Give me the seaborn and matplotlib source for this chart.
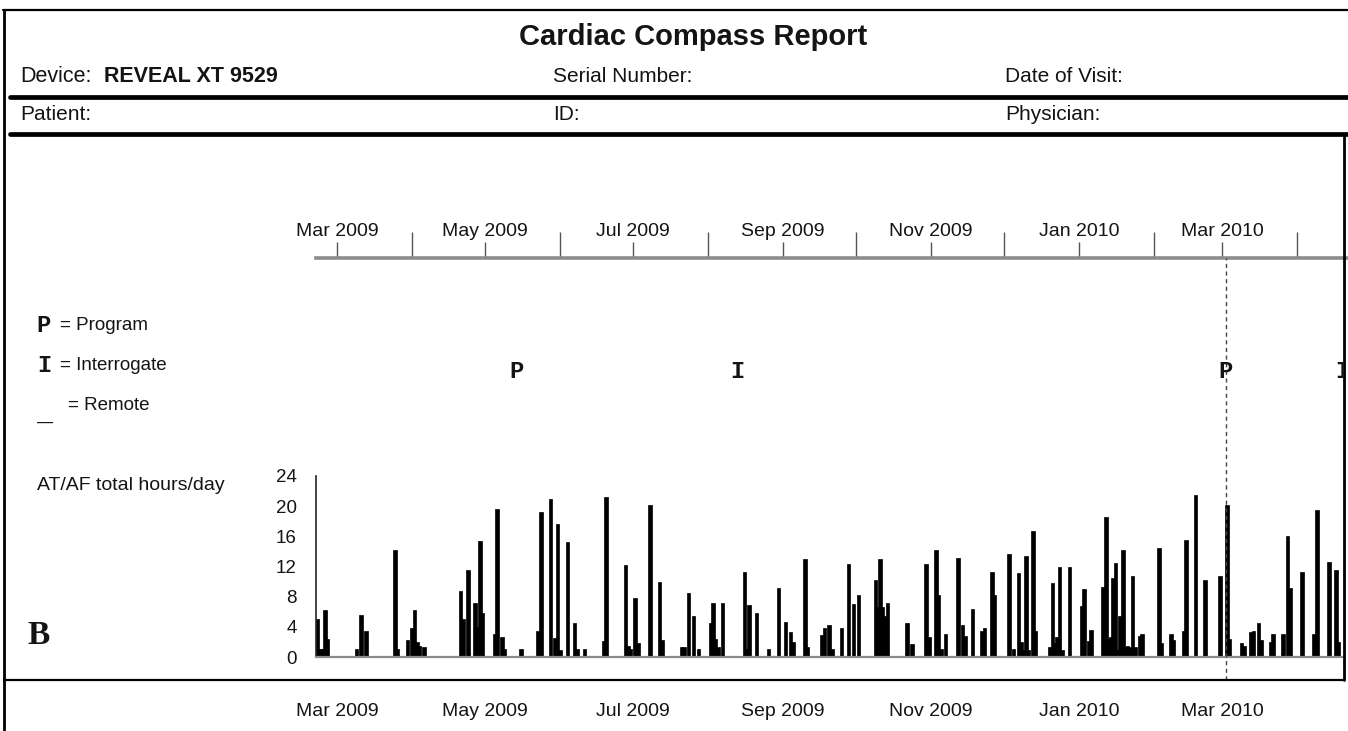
import matplotlib
matplotlib.use("Agg")
import matplotlib.pyplot as plt
import seaborn as sns
from matplotlib.lines import Line2D
from matplotlib.ticker import MultipleLocator

# ---------------- data (days counted from 1 Mar 2009) ----------------
bar_days = [-8, -7, -6, -5, -4,
            8, 10, 12,
            24, 25,
            29, 31, 32, 33, 34, 36,
            51, 52, 54, 57, 58, 59, 60,
            65, 66, 68, 69,
            76,
            83, 84, 88, 90, 91, 92, 95, 98, 99, 102,
            110, 111,
            119, 120, 121, 123, 124, 129,
            133, 134,
            142, 143, 145, 147, 149,
            154, 155, 156, 157, 159,
            168, 169, 170, 173,
            178,
            182, 185, 187, 188,
            193, 194,
            200, 201, 203, 204,
            208, 211, 213, 215,
            222, 223, 224, 225, 226, 227,
            235, 237,
            243, 244, 247, 248, 249, 251,
            256, 258, 259, 262,
            266, 267, 270, 271,
            277, 279, 281, 282, 283, 284, 285, 287, 288,
            294, 295, 296, 297, 298, 299,
            302,
            307, 308, 310, 311,
            316, 317, 318, 319, 320, 321, 322, 323, 324, 325, 326, 327, 328, 329, 331, 332,
            339, 340,
            344, 345,
            349, 350, 354, 358, 364, 367, 368,
            373, 374, 377, 378, 380, 381,
            385, 386, 390, 392, 393, 398,
            403, 404, 409, 412, 413]
bar_hours = [5.0, 1.1, 1.1, 6.2, 2.4,
             1.1, 5.6, 3.5,
             14.2, 1.1,
             2.2, 3.8, 6.2, 2.0, 1.5, 1.3,
             8.8, 5.1, 11.5, 7.2, 4.0, 15.4, 5.8,
             3.1, 19.6, 2.7, 1.1,
             1.1,
             3.4, 19.2, 20.9, 2.5, 17.6, 0.9, 15.2, 4.5, 1.0, 1.1,
             2.1, 21.2,
             12.2, 1.5, 1.1, 7.8, 1.9, 20.1,
             9.9, 2.3,
             1.3, 1.3, 8.5, 5.5, 1.0,
             4.5, 7.2, 2.4, 1.3, 7.2,
             11.3, 1.1, 6.9, 5.8,
             1.1,
             9.1, 4.6, 3.3, 2.0,
             13.0, 1.3,
             2.9, 3.8, 4.3, 1.0,
             3.8, 12.3, 7.0, 8.2,
             10.2, 6.6, 13.0, 6.6, 5.5, 7.2,
             4.5, 1.7,
             12.3, 2.7, 14.2, 8.2, 1.1, 3.0,
             13.1, 4.2, 2.8, 6.3,
             3.5, 3.8, 11.3, 8.2,
             13.6, 1.1, 11.2, 2.0, 0.9, 13.4, 0.9, 16.7, 3.4,
             1.3, 9.8, 1.8, 2.7, 12.0, 0.9,
             12.0,
             6.7, 9.0, 2.1, 3.6,
             9.3, 18.6, 2.4, 2.7, 10.5, 12.4, 0.9, 5.4, 14.2, 1.3, 1.5, 1.3, 10.8, 1.3, 2.8, 3.0,
             14.4, 1.8,
             3.0, 2.2,
             3.5, 15.5, 21.5, 10.2, 10.7, 20.2, 2.4,
             1.9, 1.5, 3.3, 3.4, 4.5, 2.2,
             2.0, 3.0, 3.0, 16.1, 9.1, 11.3,
             3.1, 19.5, 12.6, 11.5, 2.0]

month_days_labeled = [0, 61, 122, 184, 245, 306, 365]
month_labels = ["Mar 2009", "May 2009", "Jul 2009", "Sep 2009",
                "Nov 2009", "Jan 2010", "Mar 2010"]
month_days_unlabeled = [31, 92, 153, 214, 275, 337, 396]

event_days = [74, 165, 366.5, 414.5]
event_codes = ["P", "I", "P", "I"]
session_day = 366.5

y_ticks = [0, 4, 8, 12, 16, 20, 24]

# ---------------- layout helpers ----------------
W, H = 1348, 731
PX_PER_DAY = 2.425
X_DAY0 = 337.0


def day_at(px):
    return (px - X_DAY0) / PX_PER_DAY


def rect(x0, y_top, x1, y_bot):
    return [x0 / W, 1 - y_bot / H, (x1 - x0) / W, (y_bot - y_top) / H]


sns.set_style("white")
SANS = ["Liberation Sans", "DejaVu Sans"]
MONO = ["Liberation Mono", "DejaVu Sans Mono"]
SERIF = ["Liberation Serif", "DejaVu Serif"]
plt.rcParams["font.family"] = SANS
TXT = "#141414"

fig = plt.figure(figsize=(W / 100, H / 100), dpi=100)
fig.patch.set_facecolor("white")


def ftext(x, y, s, **kw):
    kw.setdefault("color", TXT)
    kw.setdefault("va", "center")
    fig.text(x / W, 1 - y / H, s, **kw)


def fline(x0, y0, x1, y1, lw, color="black", ls="-"):
    fig.add_artist(Line2D([x0 / W, x1 / W], [1 - y0 / H, 1 - y1 / H],
                          transform=fig.transFigure, lw=lw, color=color, ls=ls))


# ---------------- header ----------------
fline(3, 10, 1348, 10, 1.6)
fline(4, 10, 4, 731, 2.0)
ftext(693, 37, "Cardiac Compass Report", fontsize=21, weight="bold", ha="center")
ftext(20, 76, "Device:", fontsize=15.5)
ftext(104, 76, "REVEAL XT 9529", fontsize=15.5, weight="bold")
ftext(553, 76, "Serial Number:", fontsize=15)
ftext(1005, 76, "Date of Visit:", fontsize=15)
fline(10, 97, 1348, 97, 3.4)
ftext(20, 114, "Patient:", fontsize=15)
ftext(553, 114, "ID:", fontsize=15)
ftext(1005, 114, "Physician:", fontsize=15)
fline(10, 134, 1348, 134, 3.4)
fline(1344, 134, 1344, 680, 2.0)
fline(4, 680, 1344, 680, 1.6)

# ---------------- legend / labels ----------------
ftext(43, 325, "P", fontsize=17, family=MONO, weight="bold", ha="center")
ftext(60, 325, "= Program", fontsize=13.5)
ftext(44, 366, "I", fontsize=17, family=MONO, weight="bold", ha="center")
ftext(60, 366, "= Interrogate", fontsize=13.5)
ftext(45, 414, "_", fontsize=19, family=MONO, weight="bold", ha="center")
ftext(68, 405, "= Remote", fontsize=13.5)
ftext(37, 485, "AT/AF total hours/day", fontsize=14)
ftext(27, 636, "B", fontsize=24, family=SERIF, weight="bold")

# ---------------- top timeline ----------------
ax_tl = fig.add_axes(rect(316, 240, 1348, 258))
ax_tl.patch.set_alpha(0)
ax_tl.set_xlim(day_at(316), day_at(1348))
ax_tl.set_ylim(0, 1)
ax_tl.set_yticks([])
for s in ["top", "left", "right"]:
    ax_tl.spines[s].set_visible(False)
ax_tl.spines["bottom"].set_color("#8c8c8c")
ax_tl.spines["bottom"].set_linewidth(2.6)
ax_tl.set_xticks(month_days_unlabeled)
ax_tl.set_xticklabels([])
ax_tl.set_xticks(month_days_labeled, minor=True)
ax_tl.set_xticklabels(month_labels, minor=True, fontsize=14, color=TXT)
ax_tl.tick_params(axis="x", which="major", direction="in", length=18.5, width=1.0,
                  color="#555555", bottom=True, top=False,
                  labelbottom=False, labeltop=False)
ax_tl.tick_params(axis="x", which="minor", direction="in", length=11.5, width=1.0,
                  color="#555555", bottom=True, top=False,
                  labelbottom=False, labeltop=True, pad=0)

# ---------------- bar chart ----------------
ax_bar = fig.add_axes(rect(316, 476, 1343, 657))
ax_bar.patch.set_alpha(0)
sns.barplot(x=bar_days, y=bar_hours, native_scale=True, color="black",
            saturation=1, width=1.5, errorbar=None, edgecolor="black",
            linewidth=0.5, ax=ax_bar)
ax_bar.set_xlim(day_at(316), day_at(1343))
ax_bar.set_ylim(0, 24)
for s in ["top", "right"]:
    ax_bar.spines[s].set_visible(False)
ax_bar.spines["left"].set_color("#222222")
ax_bar.spines["left"].set_linewidth(1.2)
ax_bar.spines["bottom"].set_color("#8c8c8c")
ax_bar.spines["bottom"].set_linewidth(1.6)
ax_bar.set_yticks(y_ticks)
ax_bar.set_yticklabels([str(v) for v in y_ticks], fontsize=13.5, color=TXT)
ax_bar.yaxis.set_minor_locator(MultipleLocator(1))
ax_bar.tick_params(axis="y", which="major", direction="out", length=6, width=1.0,
                   color="#444444", pad=8)
ax_bar.tick_params(axis="y", which="minor", direction="out", length=3, width=0.8,
                   color="#666666")
ax_bar.set_xticks(month_days_labeled)
ax_bar.set_xticklabels(month_labels, fontsize=14, color=TXT)
ax_bar.tick_params(axis="x", which="major", length=0, pad=33)
ax_bar.tick_params(axis="x", which="minor", length=0)
ax_bar.set_xlabel("")
ax_bar.set_ylabel("")

# ---------------- session markers ----------------
ax_mk = fig.add_axes(rect(316, 258, 1343, 680))
ax_mk.patch.set_alpha(0)
ax_mk.set_xlim(day_at(316), day_at(1343))
ax_mk.set_ylim(0, 1)
ax_mk.axis("off")
ax_mk.axvline(session_day, color="#444444", lw=1.0, ls=(0, (3, 2.5)))
for d, c in zip(event_days, event_codes):
    ax_mk.text(d, 0.73, c, fontsize=17, family=MONO, weight="bold",
               ha="center", va="center", color=TXT, clip_on=True)

fig.savefig("out.png", dpi=100)
